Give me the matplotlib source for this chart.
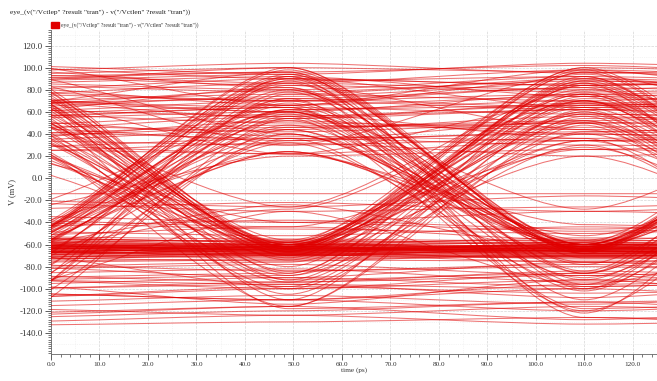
import matplotlib
matplotlib.use('Agg')
import matplotlib.pyplot as plt
from matplotlib.path import Path
from matplotlib.patches import PathPatch, Rectangle
from matplotlib.ticker import MultipleLocator, FormatStrFormatter

# 眼圖: 每條線在每個位元中心的電壓 (mV), 位元中心時間如下
bit_centers = [-12, 49, 110, 171]

band_traces = [
    [-62, -64, -66, -63], [-58, -60, -62, -60], [-66, -68, -65, -67], [-70, -72, -70, -68],
    [-55, -57, -60, -58], [-64, -62, -64, -66], [-60, -66, -63, -61], [-68, -65, -69, -71],
    [-73, -70, -72, -74], [-56, -61, -58, -60], [-63, -67, -62, -65], [-59, -63, -67, -64],
    [-65, -60, -64, -62], [-71, -68, -66, -69], [-61, -64, -60, -63], [-67, -63, -68, -65],
    [-54, -58, -56, -59], [-75, -73, -71, -72], [-62, -69, -65, -67], [-57, -62, -61, -57],
    [-69, -66, -70, -68], [-64, -61, -63, -60], [-60, -65, -68, -66], [-66, -70, -67, -64],
    [-72, -67, -73, -70], [-58, -56, -59, -62], [-63, -64, -65, -61], [-68, -71, -62, -66],
    [-53, -55, -57, -54], [-76, -74, -75, -73],
    [-61, -59, -62, -64], [-65, -66, -60, -63], [-58, -63, -64, -62], [-70, -64, -66, -72],
    [-62, -60, -58, -61], [-67, -69, -71, -66], [-63, -58, -66, -68], [-59, -65, -61, -59],
    [-66, -62, -69, -64], [-72, -75, -68, -70], [-55, -60, -54, -56], [-64, -67, -63, -69],
    [-68, -62, -65, -61], [-60, -68, -70, -67], [-74, -69, -76, -71],
]

upper_traces = [
    [97, 104, 95, 100], [90, 96, 102, 92], [84, 78, 88, 82], [76, 86, 80, 90],
    [68, 72, 64, 70], [62, 56, 66, 60], [55, 64, 58, 52], [48, 42, 50, 46],
    [40, 48, 44, 38], [34, 30, 36, 40], [28, 36, 30, 26], [72, 60, 76, 68],
    [86, 92, 74, 80], [58, 50, 46, 54], [44, 56, 62, 50], [100, 90, 84, 96],
    [66, 80, 92, 86], [52, 38, 34, 42],
    [94, 86, 98, 90], [78, 70, 62, 72], [24, 32, 20, 28], [64, 74, 86, 78],
    [46, 34, 52, 60], [88, 100, 96, 84], [36, 52, 40, 34], [58, 66, 74, 62],
    [102, 94, 104, 98], [70, 54, 68, 58], [30, 22, 34, 24], [82, 66, 90, 74],
]

edge_traces = [
    [82, -63, 78, -65], [64, -58, 70, -61], [46, -67, 52, -64], [95, -70, 88, -62],
    [36, -88, 30, -92], [58, -105, 62, -98], [74, -60, 40, -66], [28, -72, 86, -58],
    [-64, 86, -60, 80], [-58, 66, -65, 72], [-70, 48, -62, 44], [-62, 98, -68, 92],
    [-96, 56, -102, 60], [-84, 32, -90, 28], [-66, 72, -110, 64], [-120, 40, -64, 84],
    [88, 94, -64, -60], [54, 60, -66, -70], [98, 82, -72, -66], [42, 36, -98, -92],
    [26, 22, -42, -50], [70, 64, -118, -110],
    [-63, -60, 76, 82], [-58, -66, 96, 90], [-108, -100, 42, 50], [-70, -64, 58, 54],
    [-38, -44, 26, 32], [-90, -86, 88, 80],
    [92, -64, -62, -66], [66, -67, -63, -60], [34, -94, -88, -98], [78, -118, -112, -108],
    [50, -69, -71, -63], [20, -40, -48, -44],
    [-61, 84, 78, 82], [-67, 62, 66, 72], [-102, 36, 40, 30], [-116, 76, 70, 80],
    [-69, 46, 50, 56], [-30, 20, 26, 22],
    [60, 70, 82, -62], [80, 90, 64, -66], [38, 46, 52, -96],
    [-62, -65, -60, 70], [-66, -70, -64, 90], [-92, -96, -100, 40],
    [72, -62, 68, 74], [46, -80, 90, 84], [90, -66, 54, 60],
    [-60, 80, -64, -62], [-82, 58, -92, -88], [-64, 94, -66, -70],
    [-64, -62, 84, -60], [-100, -94, 50, -104],
    [86, 80, -64, 78], [56, 64, -86, 48],
    [-66, 70, 76, -62], [-112, 44, 56, -100],
    [80, -62, -66, 86], [40, -100, -92, 60],
    [100, -62, 96, -64], [62, -74, 58, -80], [84, -56, 76, -70], [30, -64, 34, -60],
    [52, -92, 70, -84], [90, -110, 86, -120],
    [-56, 92, -60, 88], [-74, 60, -78, 66], [-60, 40, -56, 36], [-88, 78, -84, 96],
    [-130, 54, -120, 48], [-46, 24, -52, 30],
    [76, 70, -60, -58], [94, 100, -68, -62], [34, 44, -76, -82], [60, 82, -126, -130],
    [-68, -62, 66, 74], [-54, -58, 100, 94], [-124, -116, 56, 46], [-80, -76, 34, 38],
    [84, -60, -64, -62], [98, -66, -60, -58], [58, -84, -78, -90], [44, -62, -66, -68],
    [-58, 90, 84, 88], [-72, 54, 62, 58], [-86, 72, 82, 76], [-60, 34, 42, 38],
    [70, 76, 90, -58], [92, 84, 44, -70], [48, 58, 36, -110],
    [-60, -62, -66, 60], [-72, -68, -58, 96], [-104, -110, -96, 66],
    [66, -70, 84, 90], [30, -58, 64, 70], [96, -60, 72, 66],
    [-62, 68, -60, -64], [-110, 88, -96, -92], [-58, 52, -68, -66],
    [-66, -64, 60, -62], [-92, -88, 74, -82],
    [70, 60, -60, 66], [92, 96, -100, 84],
    [-60, 88, 92, -66], [-98, 62, 70, -90],
    [62, -64, -60, 70], [82, -92, -86, 44],
    [74, 22, 68, -60], [56, -26, 80, 30], [-30, 60, -28, 70], [12, -66, 20, -70],
    [-64, 24, -62, 22], [104, 66, 98, 70], [90, 30, 94, 36], [-62, -24, -66, -16],
    [-100, -30, -96, -40], [68, -64, 98, -66], [24, -62, 100, -60], [-64, 100, -62, 44],
    [-60, 44, -64, 100], [88, -86, 92, -78], [-76, 90, -86, 86], [40, -116, 48, -120],
    [-118, 92, -122, 86], [52, -60, 28, -62], [-62, 24, -60, 52], [96, 40, -62, 54],
    [-66, -28, 70, -30], [80, -62, 50, -64], [-58, 62, -64, 36], [66, 96, -66, 98],
    [-68, -98, 60, -100],
]

low_traces = [
    [-133, -130, -126, -136], [-118, -124, -116, -122], [-112, -106, -114, -104],
    [-104, -110, -100, -112], [-96, -90, -98, -92], [-88, -94, -84, -90],
    [-82, -78, -88, -80], [-78, -84, -80, -86], [-14, -14, -14, -14],
    [-22, -30, -26, -20], [-44, -38, -46, -40], [-48, -52, -44, -50],
    [-108, -98, -104, -100], [-122, -116, -128, -118],
    [-92, -100, -86, -96], [-86, -82, -94, -84], [-100, -96, -108, -94],
    [-116, -110, -120, -112], [-80, -90, -76, -88], [-126, -120, -112, -124],
    [-20, -26, -16, -24], [-34, -40, -30, -36], [-40, -46, -50, -42],
    [-52, -44, -56, -46], [-28, -22, -30, -22], [-96, -114, -92, -110],
    [-130, -124, -132, -128],
]

title_text = 'eye_(v("/Vctlep" ?result "tran") - v("/Vctlen" ?result "tran"))'

plt.rcParams['font.family'] = ['Liberation Serif', 'DejaVu Serif']

fig = plt.figure(figsize=(6.57, 3.81), dpi=100)
ax = fig.add_axes([0.0776, 0.071, 0.9224, 0.850])

red = '#e00000'
hw = 16  # 轉態曲線的控制點距離 (ps)


def eye_path(levels):
    verts = [(bit_centers[0], levels[0])]
    codes = [Path.MOVETO]
    for k in range(len(levels) - 1):
        verts += [(bit_centers[k] + hw, levels[k]),
                  (bit_centers[k + 1] - hw, levels[k + 1]),
                  (bit_centers[k + 1], levels[k + 1])]
        codes += [Path.CURVE4] * 3
    return Path(verts, codes)


for group in [band_traces, upper_traces, edge_traces, low_traces]:
    for lv in group:
        ax.add_patch(PathPatch(eye_path(lv), fill=False, edgecolor=red,
                               facecolor='none', lw=0.75, alpha=0.55, zorder=3))

ax.set_xlim(0, 125)
ax.set_ylim(-159, 134)

# 格線
ax.xaxis.set_major_locator(MultipleLocator(10))
ax.xaxis.set_minor_locator(MultipleLocator(2))
ax.yaxis.set_major_locator(MultipleLocator(20))
ax.yaxis.set_minor_locator(MultipleLocator(2))
ax.xaxis.set_major_formatter(FormatStrFormatter('%.1f'))
ax.yaxis.set_major_formatter(FormatStrFormatter('%.1f'))
ax.grid(True, which='major', color='#d6d6d6', ls='--', lw=0.5, zorder=0)
for x in range(5, 125, 10):
    ax.axvline(x, color='#ececec', ls=':', lw=0.5, zorder=0)
for y in range(-150, 134, 20):
    ax.axhline(y, color='#ececec', ls=':', lw=0.5, zorder=0)

ax.tick_params(which='major', direction='out', length=4, width=0.6,
               color='#444444', labelcolor='#333333', pad=2)
ax.tick_params(which='minor', direction='out', length=2, width=0.5, color='#444444')
ax.tick_params(axis='y', labelsize=6.5)
ax.tick_params(axis='x', labelsize=5.2, pad=1.5)
for s in ['top', 'right']:
    ax.spines[s].set_visible(False)
for s in ['left', 'bottom']:
    ax.spines[s].set_color('#666666')
    ax.spines[s].set_linewidth(0.6)

ax.set_xlabel('time (ps)', fontsize=5.2, color='#333333', labelpad=0.5)
ax.set_ylabel('V (mV)', fontsize=6, color='#333333', labelpad=2)

fig.text(10 / 657, 1 - 12 / 381, title_text, fontsize=5.3, color='#222222', va='center')
fig.add_artist(Rectangle((51 / 657, 1 - 28 / 381), 8 / 657, 6 / 381,
                         transform=fig.transFigure, color=red))
fig.text(61 / 657, 1 - 25 / 381, title_text, fontsize=4.1, color='#333333', va='center')

fig.savefig('out.png', dpi=100)
